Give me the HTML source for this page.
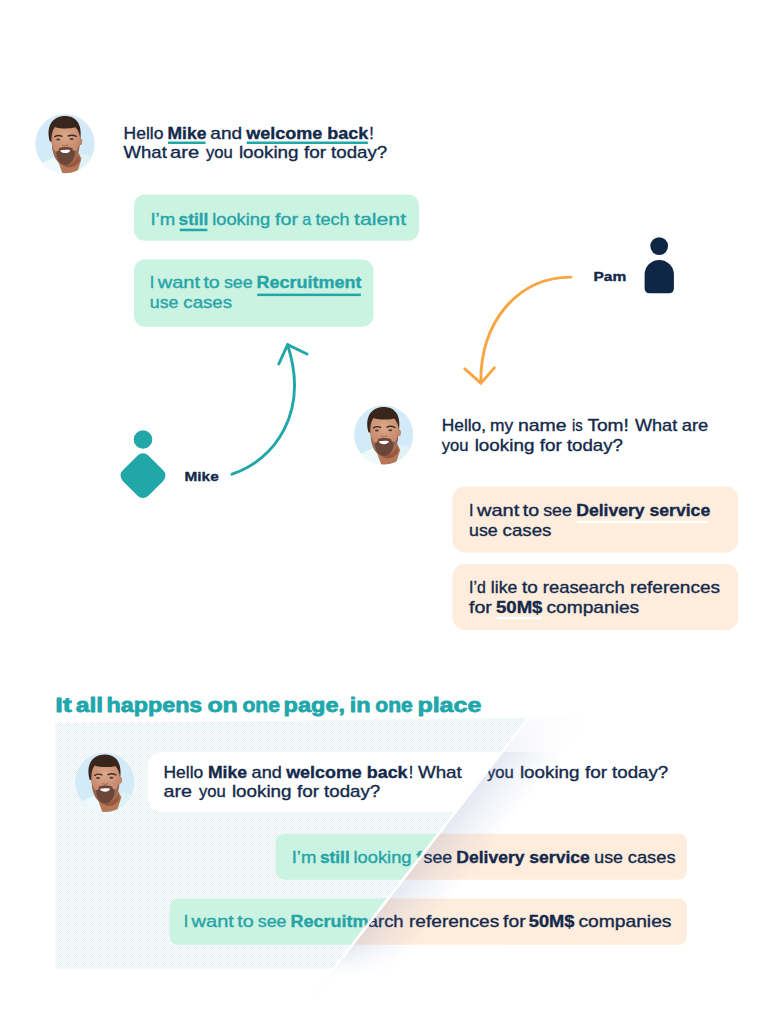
<!DOCTYPE html>
<html lang="en">
<head>
<meta charset="utf-8">
<title>It all happens on one page, in one place</title>
<style>
html,body{margin:0;padding:0;background:#fff;}
body{width:765px;height:1024px;overflow:hidden;position:relative;}
svg{display:block;position:absolute;left:0;top:0;}
text{font-family:"Liberation Sans",sans-serif;white-space:pre;font-size:16.2px;stroke-width:0.35px;stroke-linejoin:round;}
.n text,text.n{fill:#13294b;stroke:#13294b;}
.t text,text.t{fill:#26a4a6;stroke:#26a4a6;}
.b{font-weight:bold;}
.hd text{font-size:21.1px;stroke-width:0.8px;fill:#20a7ab;stroke:#20a7ab;}
</style>
</head>
<body>
<svg width="765" height="1024" viewBox="0 0 765 1024">
<defs>
  <clipPath id="avc"><circle cx="30" cy="30" r="29.6"/></clipPath>
  <radialGradient id="skin" gradientUnits="userSpaceOnUse" cx="30" cy="22" r="24">
    <stop offset="0" stop-color="#dba88a"/>
    <stop offset="0.55" stop-color="#cb9073"/>
    <stop offset="1" stop-color="#ad6f54"/>
  </radialGradient>
  <filter id="soft" x="-5%" y="-5%" width="110%" height="110%"><feGaussianBlur stdDeviation="0.45"/></filter>
  <!-- avatar drawn in a 60x60 box -->
  <g id="av">
    <circle cx="30" cy="30" r="29.6" fill="#d3ebf8"/>
    <g clip-path="url(#avc)">
     <g filter="url(#soft)">
      <path d="M1 58 C5 49 13 45.5 21.5 43 L28 61 L1 63 Z" fill="#eef9fb"/>
      <path d="M42 41.5 C47 39.5 52.5 40.5 58 43.5 L53 61 L39 61 Z" fill="#dff3f7"/>
      <path d="M21.5 43 L24.5 40 L43 38 L46.5 45 L41.5 61 L28 61 Z" fill="#b57759"/>
      <path d="M24 44 C30 52 38 52 44 41 L45 47 C40 55 31 56 25.5 49 Z" fill="#99593f"/>
      <ellipse cx="45.6" cy="28" rx="1.6" ry="3.3" fill="#c18563"/>
      <path d="M16.3 24 C15.5 13 21 7.5 30 7.5 C39.5 7.5 45.5 13 45.2 24 C45.4 28 45 30 44.6 31.5 C43.6 42 37 50.5 30 50.5 C23 50.5 18 42 17.2 32 C16.2 30 16 27 16.3 24 Z" fill="url(#skin)"/>
      <path d="M17 30.5 C18.3 34.5 20.5 36.3 23 36 C26 33 34.5 32.8 37.8 35.3 C40.5 35.8 43 34 44.6 30 C44.8 42 38 51.2 30 51.2 C22.5 51.2 17 42 17 30.5 Z" fill="#986a55"/>
      <path d="M21.5 37 C22.5 34.5 26 33.3 30.3 33.3 C34.5 33.3 38.5 34.3 39.8 36.6 C40.5 45 35.5 51.3 30.3 51.3 C25 51.3 20.5 45 21.5 37 Z" fill="#6b4739"/>
      <ellipse cx="21.3" cy="34.2" rx="2.6" ry="3.6" fill="#cb8c70" transform="rotate(-18 21.3 34.2)"/>
      <ellipse cx="40.3" cy="33.6" rx="2.6" ry="3.6" fill="#cb8c70" transform="rotate(20 40.3 33.6)"/>
      <path d="M25 36.7 C28 35.9 32.5 35.8 35.4 36.5 C34 40.3 26.8 40.4 25 36.7 Z" fill="#ffffff"/>
      <path d="M27.5 31.3 C29 32.3 31.5 32.3 33 31.2" stroke="#a5674a" stroke-width="1" fill="none" stroke-linecap="round"/>
      <path d="M14.8 27.5 C10.5 12 18 2.3 30 2.3 C41.5 2.3 47.5 10.5 45.3 26 C44.8 20.5 43.5 16.5 40.5 13.6 C34 15.6 24.5 14.8 19.8 13.2 C17.2 16.5 16.2 22 16.6 28 Z" fill="#38271f"/>
      <path d="M19.8 23 C22 21.7 25 21.7 27 22.6 M33.2 22.3 C35.5 21.3 39 21.5 41.2 22.7" stroke="#3f2a22" stroke-width="1.4" stroke-linecap="round" fill="none"/>
      <ellipse cx="23.2" cy="25.8" rx="2" ry="1" fill="#4a3a38"/>
      <ellipse cx="36.6" cy="25.4" rx="2" ry="1" fill="#4a3a38"/>
     </g>
    </g>
  </g>
  <pattern id="dith" width="2" height="2" patternUnits="userSpaceOnUse">
    <rect width="2" height="2" fill="#ffffff"/>
    <rect x="0" y="0" width="1" height="1" fill="#ebebf1"/>
    <rect x="1" y="1" width="1" height="1" fill="#dcf3f3"/>
  </pattern>
  <clipPath id="lclip"><polygon points="55.2,723.4 527,717.8 332,968.6 55.2,968.6"/></clipPath>
  <clipPath id="rclip"><polygon points="530.9,717 765,717 765,1000 311.1,1000"/></clipPath>
  <linearGradient id="shg" gradientUnits="userSpaceOnUse" x1="451.5" y1="820" x2="489.4" y2="849.5">
    <stop offset="0" stop-color="#6e7db9" stop-opacity="0.17"/>
    <stop offset="0.42" stop-color="#6e7db9" stop-opacity="0.085"/>
    <stop offset="1" stop-color="#6e7db9" stop-opacity="0"/>
  </linearGradient>
  <linearGradient id="fadeb" x1="0" y1="0" x2="0" y2="1">
    <stop offset="0" stop-color="#fff" stop-opacity="0"/>
    <stop offset="1" stop-color="#fff" stop-opacity="1"/>
  </linearGradient>
  <linearGradient id="fadet" x1="0" y1="0" x2="0" y2="1">
    <stop offset="0" stop-color="#fff" stop-opacity="0.85"/>
    <stop offset="1" stop-color="#fff" stop-opacity="0.55"/>
  </linearGradient>
</defs>

<!-- ===== Section 1 : Mike conversation ===== -->
<use href="#av" x="35" y="113.7"/>
<g class="n">
  <text x="123.6" y="138.8" textLength="39.8" lengthAdjust="spacingAndGlyphs">Hello</text>
  <text x="167.5" y="138.8" textLength="38.9" lengthAdjust="spacingAndGlyphs" class="b">Mike</text>
  <text x="210.3" y="138.8" textLength="31.8" lengthAdjust="spacingAndGlyphs">and</text>
  <text x="246.2" y="138.8" textLength="122.2" lengthAdjust="spacingAndGlyphs" class="b">welcome back</text>
  <text x="369.2" y="138.8">!</text>
  <text x="123.6" y="158.4" textLength="43.2" lengthAdjust="spacingAndGlyphs">What</text>
  <text x="170.0" y="158.4" textLength="29.1" lengthAdjust="spacingAndGlyphs">are</text>
  <text x="205.9" y="158.4" textLength="26.8" lengthAdjust="spacingAndGlyphs">you</text>
  <text x="238.9" y="158.4" textLength="59.7" lengthAdjust="spacingAndGlyphs">looking</text>
  <text x="304.0" y="158.4" textLength="22.1" lengthAdjust="spacingAndGlyphs">for</text>
  <text x="331.1" y="158.4" textLength="56.1" lengthAdjust="spacingAndGlyphs">today?</text>
</g>
<rect x="168" y="141.5" width="37.6" height="2.5" fill="#22a7a9"/>
<rect x="246.7" y="141.5" width="121.2" height="2.5" fill="#22a7a9"/>

<rect x="134" y="194.4" width="285" height="46.3" rx="11" fill="#cbf3e2"/>
<rect x="134" y="259.5" width="239.4" height="67.2" rx="11" fill="#cbf3e2"/>
<g class="t">
  <text x="150.4" y="224.7" textLength="24.7" lengthAdjust="spacingAndGlyphs">I’m</text>
  <text x="178.6" y="224.7" textLength="29.8" lengthAdjust="spacingAndGlyphs" class="b">still</text>
  <text x="212.2" y="224.7" textLength="58.0" lengthAdjust="spacingAndGlyphs">looking</text>
  <text x="275.0" y="224.7" textLength="23.1" lengthAdjust="spacingAndGlyphs">for</text>
  <text x="302.2" y="224.7">a</text>
  <text x="315.6" y="224.7" textLength="34.0" lengthAdjust="spacingAndGlyphs">tech</text>
  <text x="354.1" y="224.7" textLength="52.0" lengthAdjust="spacingAndGlyphs">talent</text>
  <text x="149.8" y="288.3">I</text>
  <text x="157.7" y="288.3" textLength="42.3" lengthAdjust="spacingAndGlyphs">want</text>
  <text x="203.4" y="288.3" textLength="16.4" lengthAdjust="spacingAndGlyphs">to</text>
  <text x="223.9" y="288.3" textLength="28.7" lengthAdjust="spacingAndGlyphs">see</text>
  <text x="256.5" y="288.3" textLength="105.0" lengthAdjust="spacingAndGlyphs" class="b">Recruitment</text>
  <text x="149.8" y="308.0" textLength="28.6" lengthAdjust="spacingAndGlyphs">use</text>
  <text x="183.3" y="308.0" textLength="48.8" lengthAdjust="spacingAndGlyphs">cases</text>
</g>
<rect x="179.8" y="228.7" width="27.6" height="2.5" fill="#22a7a9"/>
<rect x="257.2" y="293.6" width="103.7" height="2.5" fill="#22a7a9"/>

<!-- Mike person icon + arrow -->
<circle cx="143" cy="439.5" r="9.3" fill="#22a7a9"/>
<rect x="124.9" y="457.5" width="36.2" height="36.2" rx="7.6" fill="#22a7a9" transform="rotate(45 143 475.6)"/>
<text x="184.5" y="481" class="n b" style="font-size:13.6px" textLength="34.2" lengthAdjust="spacingAndGlyphs">Mike</text>
<path d="M232 474.2 C275 460 309.5 412 287.6 345" fill="none" stroke="#22a7a9" stroke-width="2.9" stroke-linecap="round"/>
<path d="M278.8 364 L287.6 344.6 L307 354" fill="none" stroke="#22a7a9" stroke-width="2.9" stroke-linecap="round" stroke-linejoin="round"/>

<!-- Pam person icon + arrow -->
<circle cx="659.2" cy="246.1" r="8.9" fill="#0f2744"/>
<path d="M644.6 274.6 A14.65 14.65 0 0 1 673.9 274.6 L673.9 288.2 Q673.9 293.3 668.8 293.3 L649.7 293.3 Q644.6 293.3 644.6 288.2 Z" fill="#0f2744"/>
<text x="593.4" y="281.2" class="n b" style="font-size:13.6px" textLength="32.8" lengthAdjust="spacingAndGlyphs">Pam</text>
<path d="M571 277.1 C518 277.5 480.2 321 480.8 383" fill="none" stroke="#f6a645" stroke-width="2.9" stroke-linecap="round"/>
<path d="M464.8 368.9 L480.8 383.2 L494.4 367.9" fill="none" stroke="#f6a645" stroke-width="2.9" stroke-linecap="round" stroke-linejoin="round"/>

<!-- ===== Section 2 : Tom conversation ===== -->
<use href="#av" x="353.7" y="404.8"/>
<g class="n">
  <text x="441.7" y="431.2" textLength="44.4" lengthAdjust="spacingAndGlyphs">Hello,</text>
  <text x="490.0" y="431.2" textLength="23.2" lengthAdjust="spacingAndGlyphs">my</text>
  <text x="517.9" y="431.2" textLength="48.7" lengthAdjust="spacingAndGlyphs">name</text>
  <text x="572.0" y="431.2" textLength="10.7" lengthAdjust="spacingAndGlyphs">is</text>
  <text x="587.4" y="431.2" textLength="41.5" lengthAdjust="spacingAndGlyphs">Tom!</text>
  <text x="635.0" y="431.2" textLength="42.2" lengthAdjust="spacingAndGlyphs">What</text>
  <text x="681.8" y="431.2" textLength="26.5" lengthAdjust="spacingAndGlyphs">are</text>
  <text x="441.7" y="450.8" textLength="26.8" lengthAdjust="spacingAndGlyphs">you</text>
  <text x="474.7" y="450.8" textLength="59.7" lengthAdjust="spacingAndGlyphs">looking</text>
  <text x="539.8" y="450.8" textLength="22.1" lengthAdjust="spacingAndGlyphs">for</text>
  <text x="566.9" y="450.8" textLength="56.1" lengthAdjust="spacingAndGlyphs">today?</text>
</g>
<rect x="452.5" y="486.4" width="285.8" height="66" rx="12.5" fill="#feecdc"/>
<rect x="452.5" y="564" width="285.8" height="66" rx="12.5" fill="#feecdc"/>
<g class="n">
  <text x="469.1" y="516.2">I</text>
  <text x="477.0" y="516.2" textLength="42.3" lengthAdjust="spacingAndGlyphs">want</text>
  <text x="522.7" y="516.2" textLength="16.4" lengthAdjust="spacingAndGlyphs">to</text>
  <text x="543.2" y="516.2" textLength="28.7" lengthAdjust="spacingAndGlyphs">see</text>
  <text x="576.2" y="516.2" textLength="134.0" lengthAdjust="spacingAndGlyphs" class="b">Delivery service</text>
  <text x="469.1" y="535.7" textLength="28.6" lengthAdjust="spacingAndGlyphs">use</text>
  <text x="502.6" y="535.7" textLength="48.8" lengthAdjust="spacingAndGlyphs">cases</text>
  <text x="469.0" y="593.3" textLength="16.8" lengthAdjust="spacingAndGlyphs">I’d</text>
  <text x="490.8" y="593.3" textLength="26.5" lengthAdjust="spacingAndGlyphs">like</text>
  <text x="522.0" y="593.3" textLength="15.8" lengthAdjust="spacingAndGlyphs">to</text>
  <text x="542.8" y="593.3" textLength="81.9" lengthAdjust="spacingAndGlyphs">reasearch</text>
  <text x="630.1" y="593.3" textLength="89.9" lengthAdjust="spacingAndGlyphs">references</text>
  <text x="469.0" y="612.8" textLength="22.9" lengthAdjust="spacingAndGlyphs">for</text>
  <text x="496.0" y="612.8" textLength="46.4" lengthAdjust="spacingAndGlyphs" class="b">50M$</text>
  <text x="546.4" y="612.8" textLength="92.8" lengthAdjust="spacingAndGlyphs">companies</text>
</g>
<rect x="576.6" y="520.6" width="131" height="2.5" fill="#ffffff"/>
<rect x="496.7" y="616.9" width="45.2" height="2.5" fill="#ffffff"/>

<!-- ===== Section 3 : both on one page ===== -->
<g class="t hd">
  <text x="55.2" y="711.6" textLength="16.6" lengthAdjust="spacingAndGlyphs" class="b">It</text>
  <text x="75.7" y="711.6" textLength="27.4" lengthAdjust="spacingAndGlyphs" class="b">all</text>
  <text x="106.6" y="711.6" textLength="95.7" lengthAdjust="spacingAndGlyphs" class="b">happens</text>
  <text x="207.4" y="711.6" textLength="30.4" lengthAdjust="spacingAndGlyphs" class="b">on</text>
  <text x="242.5" y="711.6" textLength="37.4" lengthAdjust="spacingAndGlyphs" class="b">one</text>
  <text x="283.6" y="711.6" textLength="61.5" lengthAdjust="spacingAndGlyphs" class="b">page,</text>
  <text x="349.8" y="711.6" textLength="20.8" lengthAdjust="spacingAndGlyphs" class="b">in</text>
  <text x="375.3" y="711.6" textLength="37.4" lengthAdjust="spacingAndGlyphs" class="b">one</text>
  <text x="417.4" y="711.6" textLength="63.9" lengthAdjust="spacingAndGlyphs" class="b">place</text>
</g>

<!-- left (Mike) half -->
<g clip-path="url(#lclip)">
  <rect x="50" y="710" width="500" height="270" fill="url(#dith)"/>
  <use href="#av" x="74.8" y="752.3"/>
  <rect x="147.8" y="752.1" width="520" height="60" rx="13" fill="#ffffff"/>
  <g class="n">
    <text x="163.5" y="778.4" textLength="39.7" lengthAdjust="spacingAndGlyphs">Hello</text>
  <text x="207.9" y="778.4" textLength="39.1" lengthAdjust="spacingAndGlyphs" class="b">Mike</text>
  <text x="251.6" y="778.4" textLength="30.2" lengthAdjust="spacingAndGlyphs">and</text>
  <text x="286.2" y="778.4" textLength="121.4" lengthAdjust="spacingAndGlyphs" class="b">welcome back</text>
  <text x="408.8" y="778.4">!</text>
  <text x="417.9" y="778.4" textLength="43.9" lengthAdjust="spacingAndGlyphs">What</text>
    <text x="163.5" y="797.3" textLength="28.5" lengthAdjust="spacingAndGlyphs">are</text>
  <text x="198.9" y="797.3" textLength="26.8" lengthAdjust="spacingAndGlyphs">you</text>
  <text x="231.9" y="797.3" textLength="59.7" lengthAdjust="spacingAndGlyphs">looking</text>
  <text x="297.0" y="797.3" textLength="22.1" lengthAdjust="spacingAndGlyphs">for</text>
  <text x="324.1" y="797.3" textLength="56.1" lengthAdjust="spacingAndGlyphs">today?</text>
  </g>
  <rect x="275.7" y="833.7" width="300" height="46" rx="9" fill="#cbf3e2"/>
  <rect x="169.6" y="898.5" width="400" height="46.3" rx="9" fill="#cbf3e2"/>
  <g class="t">
    <text x="291.7" y="863.3" textLength="24.7" lengthAdjust="spacingAndGlyphs">I’m</text>
  <text x="319.9" y="863.3" textLength="29.8" lengthAdjust="spacingAndGlyphs" class="b">still</text>
  <text x="353.5" y="863.3" textLength="58.0" lengthAdjust="spacingAndGlyphs">looking</text>
  <text x="416.3" y="863.3" textLength="23.1" lengthAdjust="spacingAndGlyphs">for</text>
  <text x="443.5" y="863.3">a</text>
  <text x="456.9" y="863.3" textLength="34.0" lengthAdjust="spacingAndGlyphs">tech</text>
  <text x="495.4" y="863.3" textLength="52.0" lengthAdjust="spacingAndGlyphs">talent</text>
    <text x="183.7" y="927.2">I</text>
  <text x="191.6" y="927.2" textLength="42.3" lengthAdjust="spacingAndGlyphs">want</text>
  <text x="237.3" y="927.2" textLength="16.4" lengthAdjust="spacingAndGlyphs">to</text>
  <text x="257.8" y="927.2" textLength="28.7" lengthAdjust="spacingAndGlyphs">see</text>
  <text x="290.4" y="927.2" textLength="105.0" lengthAdjust="spacingAndGlyphs" class="b">Recruitment</text>
  <text x="399.6" y="927.2" textLength="28.6" lengthAdjust="spacingAndGlyphs">use</text>
  <text x="433.1" y="927.2" textLength="48.8" lengthAdjust="spacingAndGlyphs">cases</text>
  </g>
</g>

<!-- right (Tom) half -->
<g clip-path="url(#rclip)">
  <rect x="300" y="833.7" width="386.8" height="46" rx="8" fill="#feecdc"/>
  <rect x="300" y="898.5" width="386.8" height="46.3" rx="8" fill="#feecdc"/>
  <g class="n">
    <text x="215.4" y="777.9" textLength="44.4" lengthAdjust="spacingAndGlyphs">Hello,</text>
  <text x="263.7" y="777.9" textLength="23.2" lengthAdjust="spacingAndGlyphs">my</text>
  <text x="291.6" y="777.9" textLength="48.7" lengthAdjust="spacingAndGlyphs">name</text>
  <text x="345.7" y="777.9" textLength="10.7" lengthAdjust="spacingAndGlyphs">is</text>
  <text x="361.1" y="777.9" textLength="41.5" lengthAdjust="spacingAndGlyphs">Tom!</text>
  <text x="408.7" y="777.9" textLength="42.2" lengthAdjust="spacingAndGlyphs">What</text>
  <text x="455.5" y="777.9" textLength="26.5" lengthAdjust="spacingAndGlyphs">are</text>
  <text x="486.9" y="777.9" textLength="26.8" lengthAdjust="spacingAndGlyphs">you</text>
  <text x="519.9" y="777.9" textLength="59.7" lengthAdjust="spacingAndGlyphs">looking</text>
  <text x="585.0" y="777.9" textLength="22.1" lengthAdjust="spacingAndGlyphs">for</text>
  <text x="612.1" y="777.9" textLength="56.1" lengthAdjust="spacingAndGlyphs">today?</text>
    <text x="349.4" y="863.3">I</text>
  <text x="357.3" y="863.3" textLength="42.3" lengthAdjust="spacingAndGlyphs">want</text>
  <text x="403.0" y="863.3" textLength="16.4" lengthAdjust="spacingAndGlyphs">to</text>
  <text x="423.5" y="863.3" textLength="28.7" lengthAdjust="spacingAndGlyphs">see</text>
  <text x="456.3" y="863.3" textLength="133.5" lengthAdjust="spacingAndGlyphs" class="b">Delivery service</text>
  <text x="594.3" y="863.3" textLength="28.6" lengthAdjust="spacingAndGlyphs">use</text>
  <text x="627.8" y="863.3" textLength="47.8" lengthAdjust="spacingAndGlyphs">cases</text>
    <text x="247.9" y="927.2" textLength="16.8" lengthAdjust="spacingAndGlyphs">I’d</text>
  <text x="269.7" y="927.2" textLength="26.5" lengthAdjust="spacingAndGlyphs">like</text>
  <text x="300.9" y="927.2" textLength="15.8" lengthAdjust="spacingAndGlyphs">to</text>
  <text x="321.7" y="927.2" textLength="81.9" lengthAdjust="spacingAndGlyphs">reasearch</text>
  <text x="409.0" y="927.2" textLength="90.2" lengthAdjust="spacingAndGlyphs">references</text>
  <text x="503.1" y="927.2" textLength="22.5" lengthAdjust="spacingAndGlyphs">for</text>
  <text x="528.8" y="927.2" textLength="45.7" lengthAdjust="spacingAndGlyphs" class="b">50M$</text>
  <text x="578.4" y="927.2" textLength="93.1" lengthAdjust="spacingAndGlyphs">companies</text>
  </g>
  <!-- drop shadow cast by the left half -->
  <polygon points="530.2,717 650,717 430,1000 310.4,1000" fill="url(#shg)"/>
  <rect x="480" y="716" width="120" height="36" fill="url(#fadet)"/>
  <rect x="300" y="946" width="180" height="30" fill="url(#fadeb)"/>
  <rect x="300" y="976" width="180" height="26" fill="#ffffff"/>
</g>
</svg>
</body>
</html>
